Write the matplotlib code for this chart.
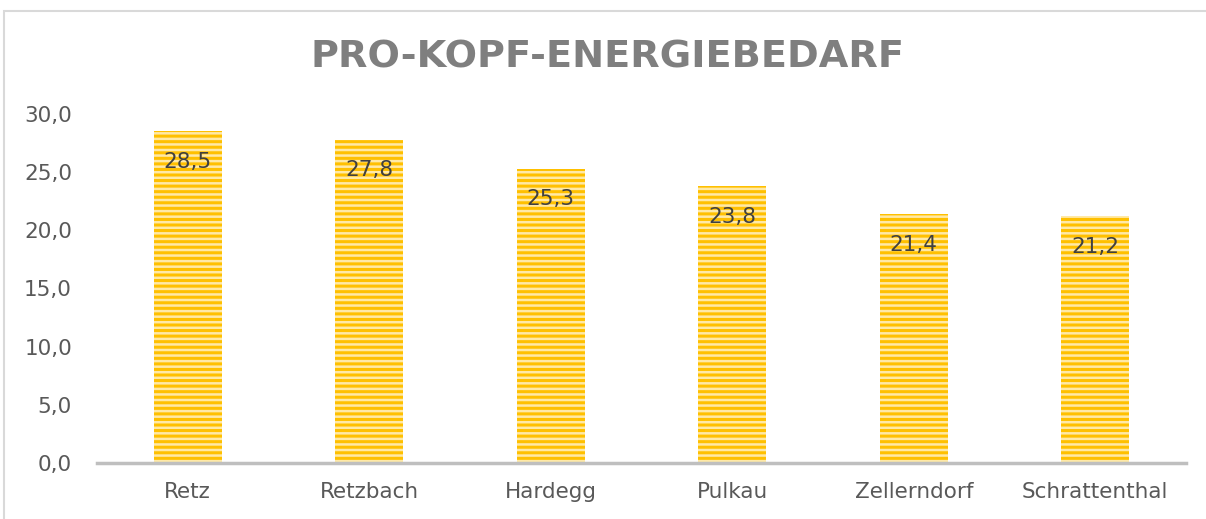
import matplotlib
matplotlib.use("Agg")
from matplotlib import pyplot as plt
from matplotlib.patches import Rectangle

gemeinden = ["Retz", "Retzbach", "Hardegg", "Pulkau", "Zellerndorf", "Schrattenthal"]
bedarf = [28.5, 27.8, 25.3, 23.8, 21.4, 21.2]
y_ticks = [0, 5, 10, 15, 20, 25, 30]

plt.rcParams["hatch.linewidth"] = 2.2
plt.rcParams["hatch.color"] = "#FFC000"

fig = plt.figure(figsize=(12.06, 5.19), dpi=100)
# chart frame (light gray border, extends past right/bottom)
fig.patches.append(Rectangle((4 / 1206, -0.05), 1.2, 1 - 11 / 519 + 0.05,
                             transform=fig.transFigure, fill=False,
                             edgecolor="#D9D9D9", linewidth=1.5))

ax = fig.add_axes([97 / 1206, 1 - 463 / 519, 1089 / 1206, (463 - 114) / 519])
x = range(len(gemeinden))
bars = ax.bar(x, bedarf, width=0.375, color="#FFE9A6", edgecolor="#FFC000",
              linewidth=0, hatch="---")

for xi, v in zip(x, bedarf):
    ax.annotate(f"{v:.1f}".replace(".", ","), (xi, v), xytext=(0, -22),
                textcoords="offset points", ha="center", va="center",
                fontsize=15.5, color="#404040")

ax.set_xlim(-0.5, len(gemeinden) - 0.5)
ax.set_ylim(0, 30)
ax.set_yticks(y_ticks)
ax.set_yticklabels([f"{t:.1f}".replace(".", ",") for t in y_ticks])
ax.set_xticks(list(x))
ax.set_xticklabels(gemeinden)
ax.tick_params(axis="y", length=0, pad=18, labelsize=15.5, labelcolor="#595959")
ax.tick_params(axis="x", length=0, pad=14, labelsize=15.5, labelcolor="#595959")

for s in ["top", "right", "left"]:
    ax.spines[s].set_visible(False)
ax.spines["bottom"].set_color("#BFBFBF")
ax.spines["bottom"].set_linewidth(2.5)

fig.text(607 / 1206, 1 - 58 / 519, "PRO-KOPF-ENERGIEBEDARF", ha="center",
         va="center", fontsize=27.5, fontweight="bold", color="#7F7F7F")

fig.savefig("out.png", dpi=100)
